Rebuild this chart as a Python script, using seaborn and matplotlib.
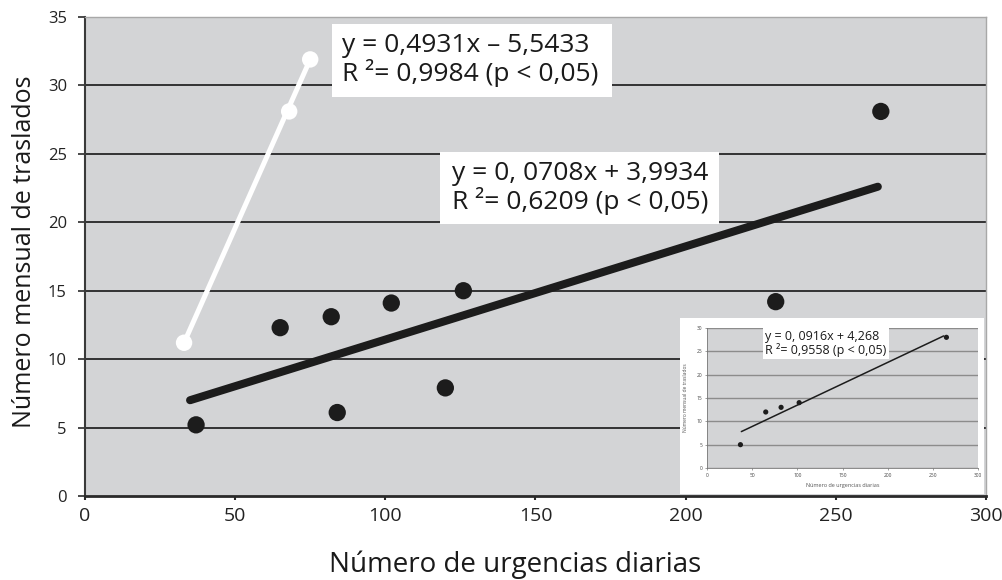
import matplotlib
matplotlib.use('Agg')
import matplotlib.pyplot as plt
import seaborn as sns
from matplotlib.patches import Rectangle

# main chart: black points (all hospitals)
urgencias = [37, 65, 82, 84, 102, 120, 126, 230, 265]
traslados = [5.2, 12.3, 13.1, 6.1, 14.1, 7.9, 15.0, 14.2, 28.1]
fit_x = [35, 264]
fit_y = [7.0, 22.6]

# white points (subgroup)
urg_blanco = [33, 68, 75]
tras_blanco = [11.2, 28.1, 31.9]
fit_blanco_x = [33, 75]
fit_blanco_y = [11.2, 31.9]

# inset chart
ins_x = [37, 65, 82, 102, 265]
ins_y = [5, 12, 13, 14, 28]
ins_fit_x = [38, 262]
ins_fit_y = [7.8, 28.3]

eq_negro = "y = 0, 0708x + 3,9934\nR \u00b2= 0,6209 (p < 0,05)"
eq_blanco = "y = 0,4931x \u2013 5,5433\nR \u00b2= 0,9984 (p < 0,05)"
eq_inset = "y = 0, 0916x + 4,268\nR \u00b2= 0,9558 (p < 0,05)"
xlabel = "Número de urgencias diarias"
ylabel = "Número mensual de traslados"

sns.set_theme(style='white')
plt.rcParams['font.family'] = ['Open Sans', 'DejaVu Sans']
narrow = ['Liberation Sans Narrow', 'Open Sans', 'DejaVu Sans']

GRAY_BG = '#d3d4d6'
DARK = '#1c1c1c'

fig = plt.figure(figsize=(10.03, 5.8), dpi=100)
ax = fig.add_axes([0.0847, 0.1448, 0.8983, 0.8259])
ax.set_facecolor(GRAY_BG)

sns.lineplot(x=fit_x, y=fit_y, ax=ax, color=DARK, linewidth=5.8, zorder=3)
sns.lineplot(x=fit_blanco_x, y=fit_blanco_y, ax=ax, color='white', linewidth=3.6, zorder=3)
sns.scatterplot(x=urgencias, y=traslados, ax=ax, s=155, color=DARK, edgecolor='none', zorder=4)
sns.scatterplot(x=urg_blanco, y=tras_blanco, ax=ax, s=140, color='white', edgecolor='none', zorder=4)

ax.set_xlim(0, 300)
ax.set_ylim(0, 35)
ax.set_xticks(range(0, 301, 50))
ax.set_yticks(range(0, 36, 5))
ax.set_xlabel('')
ax.set_ylabel('')
ax.grid(axis='y', color='#262626', linewidth=1.3)
ax.set_axisbelow(True)
glines = ax.yaxis.get_gridlines()
glines[0].set_visible(False)
glines[-1].set_visible(False)

ax.spines['left'].set_color('#3a3a3a')
ax.spines['left'].set_linewidth(1.5)
ax.spines['bottom'].set_color('#2a2a2a')
ax.spines['bottom'].set_linewidth(2)
for s in ['top', 'right']:
    ax.spines[s].set_color('#a8a8a8')
    ax.spines[s].set_linewidth(1)

ax.tick_params(axis='y', direction='out', length=5, width=1.2, color='#2a2a2a',
               pad=8, labelsize=12, labelcolor='#222222', left=True)
ax.tick_params(axis='x', direction='out', length=3, width=1.5, color='#2a2a2a',
               pad=5, labelsize=14, labelcolor='#222222', bottom=True)
for lbl in ax.get_xticklabels():
    lbl.set_family(narrow)

# equation boxes
ax.add_patch(Rectangle((82.3, 29.15), 93.2, 5.35, facecolor='white', edgecolor='none', zorder=5))
ax.text(85.6, 31.85, eq_blanco, fontsize=19, va='center', ha='left', color='#1a1a1a',
        linespacing=1.05, zorder=6)
ax.add_patch(Rectangle((118.2, 19.87), 92.9, 5.26, facecolor='white', edgecolor='none', zorder=5))
ax.text(122.2, 22.5, eq_negro, fontsize=19, va='center', ha='left', color='#1a1a1a',
        linespacing=1.05, zorder=6)

fig.text(25 / 1003, 1 - 252 / 580, ylabel, rotation=90, ha='center', va='center',
         fontsize=18, color='#1a1a1a')
fig.text(515 / 1003, 1 - 565 / 580, xlabel, ha='center', va='center',
         fontsize=20, color='#1a1a1a', family=narrow)

# inset
box = fig.add_axes([0.678, 0.148, 0.303, 0.3034])
box.set_facecolor('white')
box.set_xticks([])
box.set_yticks([])
for s in box.spines.values():
    s.set_visible(False)

ins = fig.add_axes([0.7049, 0.1931, 0.2702, 0.2414])
ins.set_facecolor(GRAY_BG)
sns.lineplot(x=ins_fit_x, y=ins_fit_y, ax=ins, color=DARK, linewidth=1.1, zorder=3)
sns.scatterplot(x=ins_x, y=ins_y, ax=ins, s=14, color=DARK, edgecolor='none', zorder=4)
ins.set_xlim(0, 300)
ins.set_ylim(0, 30)
ins.set_xticks(range(0, 301, 50))
ins.set_yticks(range(0, 31, 5))
ins.grid(axis='y', color='#8c8c8c', linewidth=1.0)
ins.set_axisbelow(True)
for s in ['top', 'right']:
    ins.spines[s].set_visible(False)
for s in ['left', 'bottom']:
    ins.spines[s].set_color('#777777')
    ins.spines[s].set_linewidth(0.6)
ins.tick_params(labelsize=3.5, length=1.5, width=0.5, pad=2, labelcolor='#444444',
                left=True, bottom=True, color='#777777')
ins.set_xlabel('Número de urgencias diarias', fontsize=4, color='#555555', labelpad=4)
ins.set_ylabel('Número mensual de traslados', fontsize=3.5, color='#555555', labelpad=6)
ins.text(0.215, 0.985, eq_inset, transform=ins.transAxes, fontsize=9, va='top', ha='left',
         color='#1a1a1a', linespacing=1.0, zorder=6,
         bbox=dict(facecolor='white', edgecolor='none', pad=1.5))

fig.savefig('out.png', dpi=100)
